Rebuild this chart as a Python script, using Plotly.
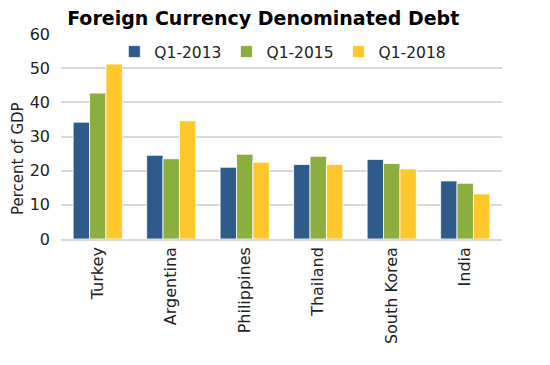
import plotly.graph_objects as go

countries = ["Turkey", "Argentina", "Philippines", "Thailand", "South Korea", "India"]
q1_2013 = [34.2, 24.5, 21.0, 21.8, 23.3, 17.0]
q1_2015 = [42.7, 23.5, 24.8, 24.2, 22.1, 16.3]
q1_2018 = [51.2, 34.6, 22.5, 21.8, 20.5, 13.2]

series = [("Q1-2013", q1_2013, "#2E5B8A"), ("Q1-2015", q1_2015, "#8BAE3E"), ("Q1-2018", q1_2018, "#FFC72C")]

fig = go.Figure()
for name, vals, col in series:
    fig.add_trace(go.Bar(x=countries, y=vals, name=name, marker=dict(color=col, line=dict(color="white", width=0.8))))

font = "Verdana, DejaVu Sans, sans-serif"
fig.update_layout(
    width=550, height=365,
    margin=dict(l=53, r=56, t=26, b=134, autoexpand=False),
    paper_bgcolor="white", plot_bgcolor="white",
    barmode="group", bargap=0.33, bargroupgap=0,
    font=dict(family=font, size=15, color="#222"),
    title=dict(text="<b>Foreign Currency Denominated Debt</b>", x=0.464, xanchor="center", y=0.972, yanchor="middle",
               font=dict(family=font, size=19, color="black")),
    legend=dict(orientation="h", x=0.503, xanchor="center", y=0.995, yanchor="top", font=dict(size=15.5, color="#222"),
                itemwidth=30, bgcolor="rgba(0,0,0,0)", traceorder="normal"),
    xaxis=dict(tickangle=-90, showgrid=False, showline=True, linecolor="#D9D9D9", linewidth=1.5, ticks="",
               ticklen=0, automargin=False, tickfont=dict(size=16, color="#222")),
    yaxis=dict(range=[0, 60], dtick=10, showgrid=True, gridcolor="#D9D9D9", gridwidth=1.5, zeroline=False,
               ticks="", automargin=False, ticklabelstandoff=10, tickfont=dict(size=16, color="#222")),
)
fig.add_annotation(text="Percent of GDP", xref="paper", yref="paper", x=-0.0975, y=0.39,
                   textangle=-90, showarrow=False, xanchor="center", yanchor="middle",
                   font=dict(family=font, size=15, color="#222"))
fig.write_html("out.html")
